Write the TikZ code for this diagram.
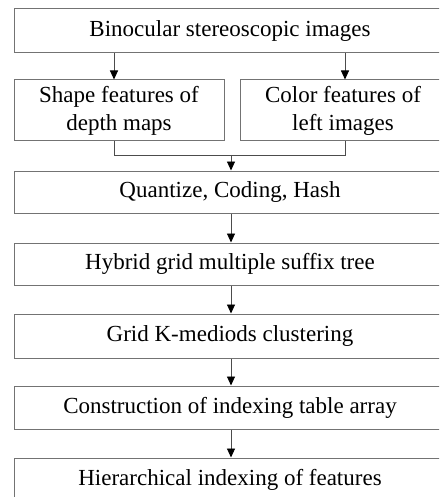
\documentclass[tikz,border=0pt]{standalone}
\usepackage{fontspec}
\setmainfont{Liberation Serif}
\usetikzlibrary{arrows.meta}
\begin{document}
\begin{tikzpicture}[x=1pt,y=-1pt,
  box/.style={draw=black!55, line width=1pt, inner sep=0pt, align=center,
    font=\fontsize{23}{28}\selectfont, text=black},
  conn/.style={draw=black!70, line width=0.9pt},
  arr/.style={conn, -{Triangle[width=8pt,length=9pt,color=black]}}]
\useasboundingbox (0,0) rectangle (439,497);
\clip (0,0) rectangle (439,497);
\node[box, minimum width=432pt, minimum height=44pt] (top) at (230,31) {Binocular stereoscopic images};
\node[box, minimum width=210pt, minimum height=61pt] (shape) at (119,110.5) {Shape features of\\depth maps};
\node[box, minimum width=206pt, minimum height=61pt] (color) at (343,110.5) {Color features of\\left images};
\node[box, minimum width=432pt, minimum height=42pt] (quant) at (230,192) {Quantize, Coding, Hash};
\node[box, minimum width=432pt, minimum height=42pt] (hyb) at (230,264) {Hybrid grid multiple suffix tree};
\node[box, minimum width=432pt, minimum height=44pt] (grid) at (230,336) {Grid K-mediods clustering};
\node[box, minimum width=432pt, minimum height=43pt] (cons) at (230,407.5) {Construction of indexing table array};
\node[box, minimum width=432pt, minimum height=44pt] (hier) at (230,480) {Hierarchical indexing of features};
\coordinate (ml) at (114,155);
\coordinate (mr) at (345,155);
\coordinate (mm) at (231,155);
\draw[arr] (top.south -| ml) -- (shape.north -| ml);
\draw[arr] (top.south -| mr) -- (color.north -| mr);
\draw[conn] (shape.south -| ml) -- (ml) -- (mr) -- (color.south -| mr);
\draw[arr] (mm) -- (quant.north -| mm);
\draw[arr] (quant.south -| mm) -- (hyb.north -| mm);
\draw[arr] (hyb.south -| mm) -- (grid.north -| mm);
\draw[arr] (grid.south -| mm) -- (cons.north -| mm);
\draw[arr] (cons.south -| mm) -- (hier.north -| mm);
\end{tikzpicture}
\end{document}
